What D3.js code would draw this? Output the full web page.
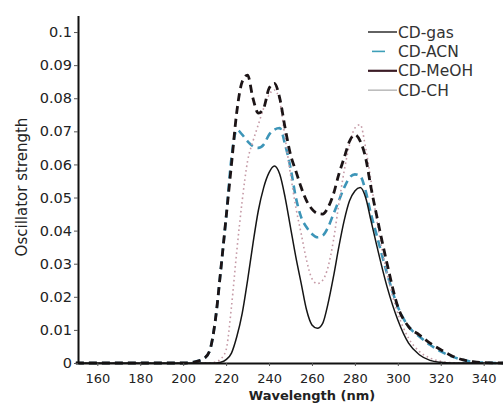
<!DOCTYPE html>
<html>
<head>
<meta charset="utf-8">
<script src="https://cdn.jsdelivr.net/npm/d3@7"></script>
<style>
    body { margin: 0; background: #fff; }
    svg { display: block; font-family: "DejaVu Sans", sans-serif; }
</style>
</head>
<body>
<svg id="chart"></svg>
<script>
// wavelength grid (nm)
const wavelength = [150, 200, 205, 210, 212.5, 215, 217.5, 220, 222.5, 225, 227.5, 230, 232.5, 235, 237.5,
    240, 242.5, 245, 247.5, 250, 252.5, 255, 257.5, 260, 262.5, 265, 267.5, 270, 272.5, 275, 277.5,
    280, 282.5, 285, 287.5, 290, 295, 300, 305, 310, 315, 320, 325, 330, 335, 340, 349];

const cd_gas = [0, 0, 0, 0, 0, 0, 0.0002, 0.001, 0.003, 0.008, 0.015, 0.025, 0.036, 0.046, 0.053,
    0.0575, 0.0595, 0.057, 0.05, 0.041, 0.032, 0.024, 0.016, 0.0115, 0.0105, 0.012, 0.018, 0.026, 0.035, 0.043, 0.049,
    0.052, 0.053, 0.05, 0.043, 0.036, 0.023, 0.013, 0.006, 0.0025, 0.0008, 0.0002, 0, 0, 0, 0, 0];

const cd_acn = [0, 0, 0.0003, 0.0015, 0.004, 0.013, 0.028, 0.044, 0.062, 0.0705, 0.069, 0.067, 0.0655, 0.065, 0.066,
    0.069, 0.0705, 0.071, 0.066, 0.059, 0.05, 0.044, 0.041, 0.039, 0.038, 0.0385, 0.041, 0.045, 0.049, 0.053, 0.056,
    0.057, 0.0565, 0.052, 0.045, 0.039, 0.027, 0.017, 0.011, 0.008, 0.0055, 0.0035, 0.002, 0.001, 0.0003, 0.0001, 0];

const cd_meoh = [0, 0, 0.0003, 0.0015, 0.004, 0.013, 0.028, 0.044, 0.06, 0.076, 0.085, 0.087, 0.08, 0.0755, 0.077,
    0.083, 0.0845, 0.08, 0.071, 0.063, 0.058, 0.053, 0.049, 0.0465, 0.0452, 0.045, 0.047, 0.051, 0.057, 0.062, 0.067,
    0.069, 0.067, 0.062, 0.053, 0.045, 0.03, 0.017, 0.011, 0.0085, 0.006, 0.004, 0.0022, 0.001, 0.0004, 0.0001, 0];

const cd_ch = [0, 0, 0, 0, 0, 0.0003, 0.0012, 0.004, 0.017, 0.034, 0.049, 0.061, 0.067, 0.072, 0.077,
    0.081, 0.0825, 0.079, 0.068, 0.057, 0.047, 0.039, 0.031, 0.0255, 0.024, 0.025, 0.029, 0.037, 0.048, 0.058, 0.066,
    0.071, 0.072, 0.065, 0.055, 0.044, 0.027, 0.015, 0.0075, 0.0035, 0.0015, 0.0005, 0.0001, 0, 0, 0, 0];

const series_names = ['CD-gas', 'CD-ACN', 'CD-MeOH', 'CD-CH'];
const series_values = [cd_gas, cd_acn, cd_meoh, cd_ch];

const x_ticks = [160, 180, 200, 220, 240, 260, 280, 300, 320, 340];
const y_ticks = [0, 0.01, 0.02, 0.03, 0.04, 0.05, 0.06, 0.07, 0.08, 0.09, 0.1];

// line styles per series
let styles = {
    'CD-gas':  {color: '#151515', width: 1.5, dash: null, legend: '#3a3a3a'},
    'CD-ACN':  {color: '#3d95b8', width: 2.6, dash: '8,5', legend: '#3d9fb8'},
    'CD-MeOH': {color: '#1c1416', width: 2.8, dash: '8,5', legend: '#3c1c26'},
    'CD-CH':   {color: '#c59aa6', width: 1.6, dash: '1.6,3', legend: '#bdbdbd'}
};

let width = 503, height = 404;
let svg = d3.select('#chart')
    .attr('width', width)
    .attr('height', height);

let x = d3.scaleLinear().domain([151, 349]).range([78, 503]);
let y = d3.scaleLinear().domain([0, 0.105]).range([363, 15.5]);

// curves, drawn under the axes
let line = d3.line()
    .x((d, i) => x(wavelength[i]))
    .y(d => y(d))
    .curve(d3.curveMonotoneX);

let draw_order = ['CD-ACN', 'CD-CH', 'CD-gas', 'CD-MeOH'];
svg.append('g')
    .selectAll('path')
    .data(draw_order)
    .join('path')
    .attr('fill', 'none')
    .attr('d', name => line(series_values[series_names.indexOf(name)]))
    .attr('stroke', name => styles[name].color)
    .attr('stroke-width', name => styles[name].width)
    .attr('stroke-dasharray', name => styles[name].dash)
    .attr('stroke-linejoin', 'round');

// x axis
let xAxis = svg.append('g')
    .attr('transform', 'translate(0,363)')
    .call(d3.axisBottom(x).tickValues(x_ticks).tickSize(3).tickSizeOuter(0).tickPadding(8));
xAxis.attr('font-family', '"DejaVu Sans", sans-serif').attr('font-size', 13);
xAxis.select('.domain').attr('stroke', '#111').attr('stroke-width', 2);
xAxis.selectAll('.tick line').attr('stroke', '#555');
xAxis.selectAll('.tick text').attr('fill', '#222');

// y axis
let yAxis = svg.append('g')
    .attr('transform', 'translate(78,0)')
    .call(d3.axisLeft(y).tickValues(y_ticks).tickSize(4).tickSizeOuter(0).tickPadding(2)
        .tickFormat(d => d === 0 ? '0' : d3.format('.2~f')(d)));
yAxis.attr('font-family', '"DejaVu Sans", sans-serif').attr('font-size', 14.5);
yAxis.select('.domain').attr('stroke', '#111').attr('stroke-width', 2);
yAxis.selectAll('.tick line').attr('stroke', '#555');
yAxis.selectAll('.tick text').attr('fill', '#222');

// axis titles
svg.append('text')
    .attr('x', 312)
    .attr('y', 400)
    .attr('text-anchor', 'middle')
    .attr('font-size', 13)
    .attr('font-weight', 'bold')
    .attr('fill', '#222')
    .text('Wavelength (nm)');

svg.append('text')
    .attr('transform', 'translate(27,187) rotate(-90)')
    .attr('text-anchor', 'middle')
    .attr('font-size', 15)
    .attr('fill', '#222')
    .text('Oscillator strength');

// legend
let legend = svg.append('g')
    .selectAll('g')
    .data(series_names)
    .join('g')
    .attr('transform', (d, i) => `translate(368,${32 + i * 19.4})`);

legend.append('line')
    .attr('x1', d => d === 'CD-ACN' ? 4 : 0)
    .attr('x2', d => d === 'CD-ACN' ? 17 : 29)
    .attr('stroke', d => styles[d].legend)
    .attr('stroke-width', d => d === 'CD-MeOH' ? 2.2 : 1.6);

legend.append('text')
    .attr('x', 30)
    .attr('y', 5.5)
    .attr('font-size', 15.5)
    .attr('fill', '#333')
    .text(d => d);
</script>
</body>
</html>
